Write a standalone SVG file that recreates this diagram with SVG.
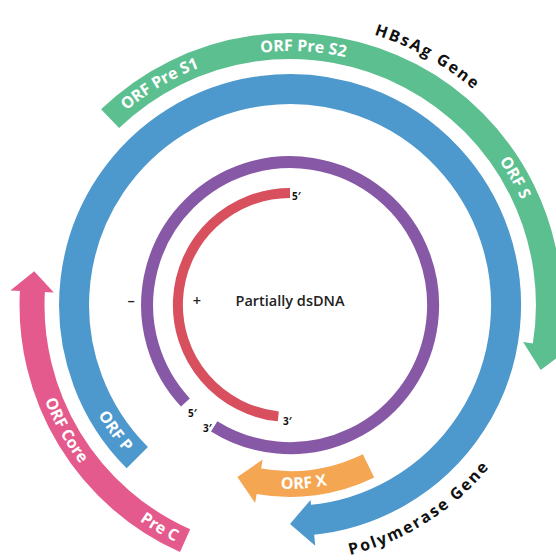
<svg xmlns="http://www.w3.org/2000/svg" width="556" height="560" viewBox="0 0 556 560">
<style>
.band{fill:none;stroke-linecap:butt}
.green{stroke:#5cbf8f;stroke-width:26}
.blue{stroke:#4d98cd;stroke-width:30}
.pink{stroke:#e55a8c;stroke-width:25}
.orange{stroke:#f4a652;stroke-width:26}
.purple{stroke:#8758a6;stroke-width:12}
.red{stroke:#d84f5d;stroke-width:10}
.wl{font-family:"Open Sans","Liberation Sans",sans-serif;font-weight:700;font-size:16px;fill:#fff}
.bl{font-family:"Open Sans","Liberation Sans",sans-serif;font-weight:700;font-size:16px;fill:#111;letter-spacing:2px}
.sm{font-family:"Open Sans","Liberation Sans",sans-serif;font-weight:700;font-size:10px;fill:#111}
.mid{font-family:"Open Sans","Liberation Sans",sans-serif;font-weight:600;font-size:14.5px;fill:#222}
</style>
<defs>
<path id="pS1" d="M68.9,179.9 A254,254 0 0 1 287.8,51.0"/>
<path id="pS2" d="M174.7,78.7 A254,254 0 0 1 428.3,92.0"/>
<path id="pS" d="M418.9,86.2 A254,254 0 0 1 544.0,307.2"/>
<path id="pHB" d="M285.1,22.0 A283,283 0 0 1 532.6,159.3"/>
<path id="pPol" d="M255.6,559.7 A257,257 0 0 0 534.8,383.1"/>
<path id="pP" d="M70.1,327.3 A221,221 0 0 0 199.4,506.6"/>
<path id="pCore" d="M27.0,301.3 A263,263 0 0 0 155.3,530.9"/>
<path id="pPreC" d="M61.3,434.9 A263,263 0 0 0 288.2,568.0"/>
<path id="pX" d="M210.5,470.9 A184,184 0 0 0 394.0,456.8"/>
</defs>
<rect width="556" height="560" fill="#fff"/>
<g id="hbsag-gene">
<path class="band green" d="M110.1,118.7 A259,259 0 0 1 545.4,347.7"/>
<polygon fill="#5cbf8f" points="523.1,341.9 568.5,349.1 540.7,369.9"/>
<text class="wl"><textPath href="#pS1" startOffset="50%" text-anchor="middle">ORF Pre S1</textPath></text>
<text class="wl"><textPath href="#pS2" startOffset="50%" text-anchor="middle">ORF Pre S2</textPath></text>
<text class="wl"><textPath href="#pS" startOffset="50%" text-anchor="middle">ORF S</textPath></text>
<text class="bl"><textPath href="#pHB" startOffset="50%" text-anchor="middle">HBsAg Gene</textPath></text>
</g>
<g id="polymerase-gene">
<path class="band blue" d="M137.3,457.7 A216,216 0 1 1 310.7,520.0"/>
<polygon fill="#4d98cd" points="310.5,499.9 315.3,545.7 290,524"/>
<text class="wl"><textPath href="#pP" startOffset="50%" text-anchor="middle">ORF P</textPath></text>
<text class="bl"><textPath href="#pPol" startOffset="50%" text-anchor="middle">Polymerase Gene</textPath></text>
</g>
<g id="core-gene">
<path class="band pink" d="M185.1,540.7 A258,258 0 0 1 32.5,289.3"/>
<polygon fill="#e55a8c" points="53.8,292.6 10.4,290.4 34.2,271.3"/>
<text class="wl"><textPath href="#pCore" startOffset="50%" text-anchor="middle">ORF Core</textPath></text>
<text class="wl"><textPath href="#pPreC" startOffset="50%" text-anchor="middle">Pre C</textPath></text>
</g>
<g id="x-gene">
<path class="band orange" d="M368.5,465.9 A179,179 0 0 1 257.4,481.0"/>
<polygon fill="#f4a652" points="262.7,459.6 255.1,502.9 237.4,477.1"/>
<text class="wl"><textPath href="#pX" startOffset="50%" text-anchor="middle">ORF X</textPath></text>
</g>
<g id="minus-strand">
<path class="band purple" d="M185.4,402.5 A143,143 0 1 1 214.2,426.3"/>
<text class="sm" x="188" y="417">5′</text>
<text class="sm" x="203" y="432">3′</text>
<text class="mid" x="131" y="306" text-anchor="middle" font-weight="700">–</text>
</g>
<g id="plus-strand">
<path class="band red" d="M278.3,416.4 A112,112 0 0 1 290,193"/>
<text class="sm" x="292" y="200">5′</text>
<text class="sm" x="283" y="425">3′</text>
<text class="mid" x="197" y="306" text-anchor="middle" font-weight="700">+</text>
</g>
<g id="center-label">
<text class="mid" x="290" y="306" text-anchor="middle">Partially dsDNA</text>
</g>
<g id="connectors"></g>
</svg>
